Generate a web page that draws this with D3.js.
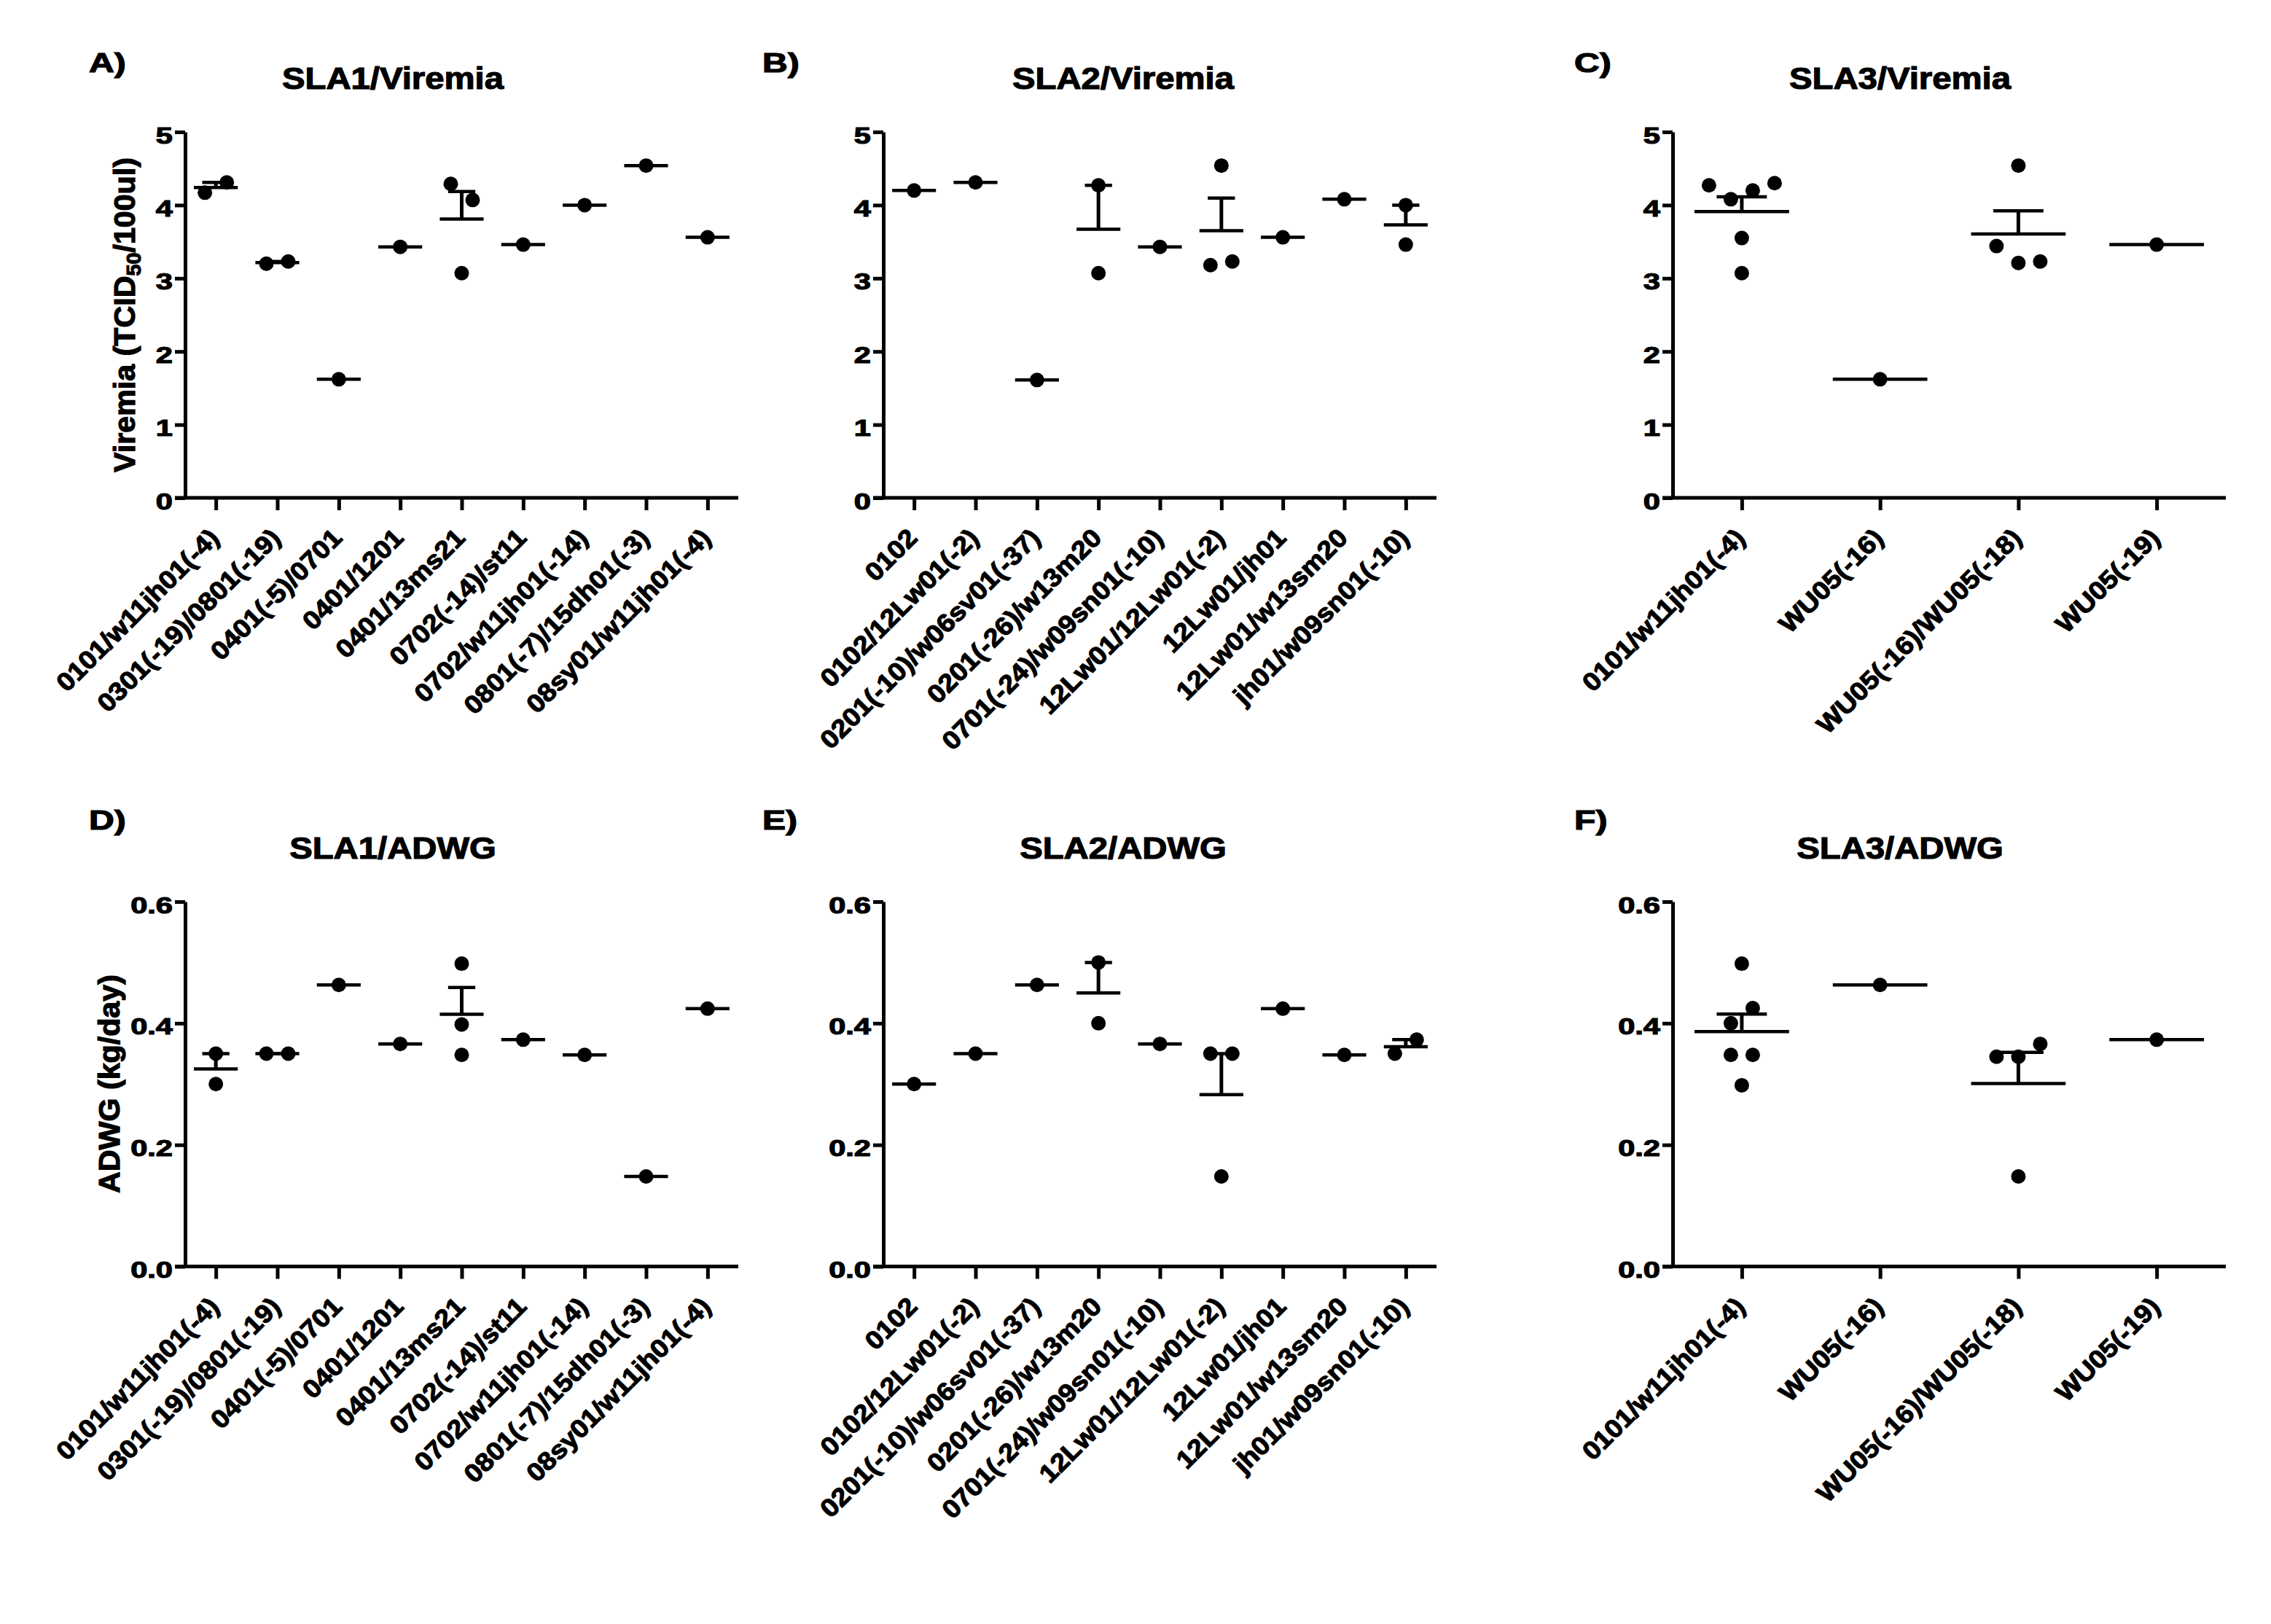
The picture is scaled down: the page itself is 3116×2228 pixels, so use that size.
<!DOCTYPE html>
<html><head><meta charset="utf-8">
<script src="https://cdn.jsdelivr.net/npm/d3@7"></script>
<style>
html,body{margin:0;padding:0;background:#fff;}
svg{display:block;}
text{stroke:#000;stroke-width:1.2px;}
</style>
</head><body>
<svg id="c" width="3116" height="2228"></svg>
<script>
// ---------------- DATA ----------------
const sla1Categories = ["0101/w11jh01(-4)","0301(-19)/0801(-19)","0401(-5)/0701","0401/1201","0401/13ms21","0702(-14)/st11","0702/w11jh01(-14)","0801(-7)/15dh01(-3)","08sy01/w11jh01(-4)"];
const sla2Categories = ["0102","0102/12Lw01(-2)","0201(-10)/w06sv01(-37)","0201(-26)/w13m20","0701(-24)/w09sn01(-10)","12Lw01/12Lw01(-2)","12Lw01/jh01","12Lw01/w13sm20","jh01/w09sn01(-10)"];
const sla3Categories = ["0101/w11jh01(-4)","WU05(-16)","WU05(-16)/WU05(-18)","WU05(-19)"];

const sla1Viremia = [[4.17,4.31],[3.20,3.23],[1.62],[3.43],[4.29,4.07,3.07],[3.46],[4.00],[4.54],[3.56]];
const sla2Viremia = [[4.20],[4.31],[1.61],[4.27,3.07],[3.43],[4.54,3.18,3.23],[3.56],[4.08],[4.00,3.46]];
const sla3Viremia = [[4.27,4.08,4.20,4.30,3.55,3.07],[1.62],[3.44,4.54,3.21,3.23],[3.46]];

const sla1ADWG = [[0.35,0.30],[0.35,0.35],[0.463],[0.366],[0.498,0.398,0.348],[0.373],[0.348],[0.148],[0.424]];
const sla2ADWG = [[0.30],[0.35],[0.463],[0.50,0.40],[0.366],[0.35,0.35,0.148],[0.424],[0.348],[0.35,0.373]];
const sla3ADWG = [[0.498,0.40,0.425,0.348,0.348,0.298],[0.463],[0.345,0.345,0.366,0.148],[0.373]];

const viremiaTicks = [0,1,2,3,4,5];
const adwgTicks = [0,0.2,0.4,0.6];

const panelLetters = ["A)","B)","C)","D)","E)","F)"];
const panelTitles = ["SLA1/Viremia","SLA2/Viremia","SLA3/Viremia","SLA1/ADWG","SLA2/ADWG","SLA3/ADWG"];
const yTitleViremia = ["Viremia (TCID","50","/100ul)"];
const yTitleADWG = "ADWG (kg/day)";

// ---------------- LAYOUT ----------------
const FONT = '"Liberation Sans", Arial, Helvetica, sans-serif';
const svg = d3.select("#c");
svg.append("rect").attr("width",3116).attr("height",2228).attr("fill","#fff").attr("stroke","none");

const colAxisX = [254, 1212, 2295];
const axisLen = 759;
const titleX = [539, 1541, 2607];
const letterX = [122, 1046, 2160];
const rows = [
  {yTop:181, yBot:683, domain:[0,5], ticks:viremiaTicks, fmt:d3.format("d"), titleY:122, letterY:99},
  {yTop:1237, yBot:1737.5, domain:[0,0.6], ticks:adwgTicks, fmt:d3.format(".1f"), titleY:1178, letterY:1138}
];

const panels = [
  {cats:sla1Categories, data:sla1Viremia, row:0, col:0},
  {cats:sla2Categories, data:sla2Viremia, row:0, col:1},
  {cats:sla3Categories, data:sla3Viremia, row:0, col:2},
  {cats:sla1Categories, data:sla1ADWG, row:1, col:0},
  {cats:sla2Categories, data:sla2ADWG, row:1, col:1},
  {cats:sla3Categories, data:sla3ADWG, row:1, col:2}
];

function swarmOffsets(vals, yScale){
  const idx = vals.map((v,i)=>i).sort((a,b)=>yScale(vals[a])-yScale(vals[b]));
  const clusters = []; let cur = [idx[0]];
  for (let j=1;j<idx.length;j++){
    if (Math.abs(yScale(vals[idx[j]])-yScale(vals[idx[j-1]])) < 25) cur.push(idx[j]);
    else { clusters.push(cur); cur = [idx[j]]; }
  }
  clusters.push(cur);
  const off = new Array(vals.length).fill(0);
  clusters.forEach(c=>{ c.sort((a,b)=>a-b); c.forEach((id,j)=>{ off[id] = (j-(c.length-1)/2)*30; }); });
  return off;
}

panels.forEach((p,pi)=>{
  const r = rows[p.row];
  const ax = colAxisX[p.col];
  const x = d3.scalePoint().domain(p.cats).range([ax, ax+axisLen]).padding(0.5);
  const y = d3.scaleLinear().domain(r.domain).range([r.yBot, r.yTop]);
  const g = svg.append("g");

  g.append("text").attr("transform",`translate(${letterX[p.col]},${r.letterY}) scale(1.3,1)`)
    .attr("font-family",FONT).attr("font-weight","bold").attr("font-size",37).text(panelLetters[pi]);
  g.append("text").attr("transform",`translate(${titleX[p.col]},${r.titleY}) scale(1.1,1)`)
    .attr("text-anchor","middle").attr("font-family",FONT).attr("font-weight","bold").attr("font-size",43).text(panelTitles[pi]);

  const ya = g.append("g").attr("transform",`translate(${ax},0)`)
    .call(d3.axisLeft(y).tickValues(r.ticks).tickFormat(r.fmt).tickSize(14).tickSizeOuter(0));
  ya.attr("font-family",FONT).attr("font-size",32).attr("font-weight","bold");
  ya.select(".domain").attr("stroke","#000").attr("stroke-width",5);
  ya.selectAll(".tick line").attr("stroke","#000").attr("stroke-width",5);
  ya.selectAll(".tick text").attr("x",null).attr("dy",null).attr("fill","#000")
    .attr("transform","translate(-17,15) scale(1.3,1)");

  const xa = g.append("g").attr("transform",`translate(0,${r.yBot})`)
    .call(d3.axisBottom(x).tickSize(17).tickSizeOuter(0));
  xa.attr("font-family",FONT).attr("font-size",35).attr("font-weight","bold");
  xa.select(".domain").remove();
  xa.selectAll(".tick line").attr("stroke","#000").attr("stroke-width",5);
  xa.selectAll(".tick text").attr("x",null).attr("y",null).attr("dy",null).attr("fill","#000")
    .attr("text-anchor","end").attr("transform","translate(6,57) rotate(-45) scale(1.08,1)");
  g.append("line").attr("x1",ax-14).attr("x2",ax+axisLen).attr("y1",r.yBot).attr("y2",r.yBot)
    .attr("stroke","#000").attr("stroke-width",5);

  if (p.col===0){
    const t = g.append("text").attr("text-anchor","middle").attr("font-family",FONT).attr("font-weight","bold").attr("font-size",40);
    if (p.row===0){
      t.attr("transform","translate(185,432) rotate(-90) scale(1.03,1)");
      t.append("tspan").text(yTitleViremia[0]);
      t.append("tspan").attr("font-size",28).attr("dy",8).text(yTitleViremia[1]);
      t.append("tspan").attr("dy",-8).text(yTitleViremia[2]);
    } else {
      t.attr("transform","translate(164,1487) rotate(-90) scale(1.03,1)").text(yTitleADWG);
    }
  }

  const step = x.step();
  const mw = 0.66*step + 4.5;
  const cw = 0.3*step + 12;
  p.data.forEach((vals,i)=>{
    const cx = x(p.cats[i]);
    const m = d3.mean(vals);
    g.append("line").attr("x1",cx-mw/2).attr("x2",cx+mw/2).attr("y1",y(m)).attr("y2",y(m))
      .attr("stroke","#000").attr("stroke-width",4.5);
    if (vals.length>1){
      const sem = d3.deviation(vals)/Math.sqrt(vals.length);
      g.append("line").attr("x1",cx).attr("x2",cx).attr("y1",y(m)).attr("y2",y(m+sem))
        .attr("stroke","#000").attr("stroke-width",5);
      g.append("line").attr("x1",cx-cw/2).attr("x2",cx+cw/2).attr("y1",y(m+sem)).attr("y2",y(m+sem))
        .attr("stroke","#000").attr("stroke-width",4.5);
    }
    const off = swarmOffsets(vals, y);
    g.selectAll(null).data(vals).enter().append("circle")
      .attr("cx",(d,j)=>cx+off[j]).attr("cy",d=>y(d)).attr("r",10).attr("fill","#000");
  });
});
</script>
</body></html>
